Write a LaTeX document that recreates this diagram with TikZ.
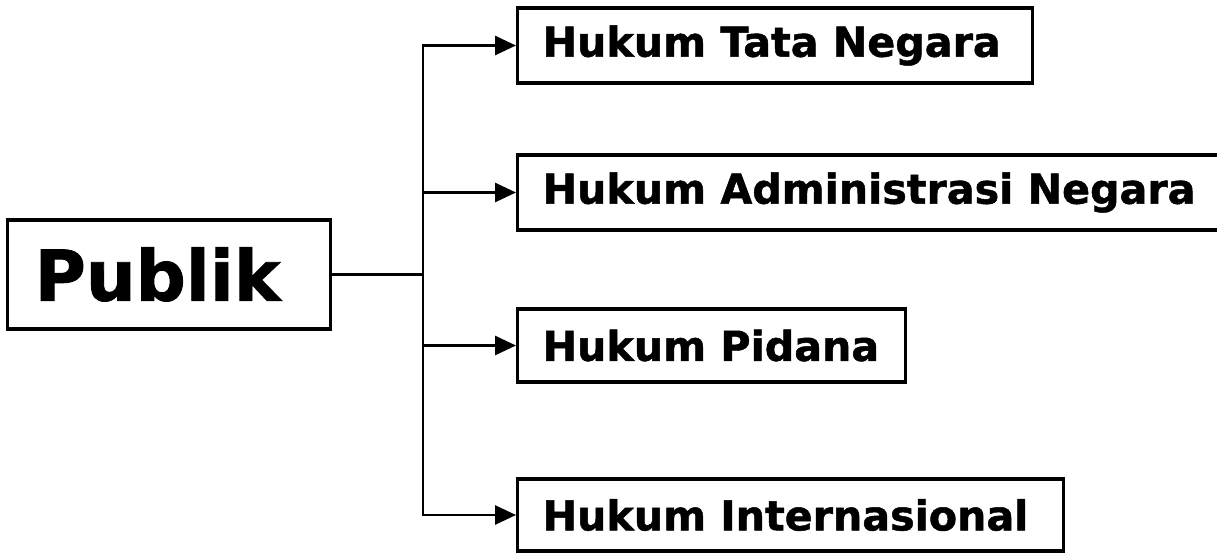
\documentclass[tikz,border=0pt]{standalone}
\usepackage{fontspec}
\setmainfont{DejaVu Sans}[BoldFeatures={FakeBold=1.2}]
\usetikzlibrary{arrows.meta}
\begin{document}
\begin{tikzpicture}[x=1pt,y=-1pt,
  box/.style={draw=black,line width=3.2pt,rectangle,anchor=west,
    inner xsep=0pt,inner ysep=0pt,font=\bfseries\fontsize{41.2}{50}\selectfont},
  link/.style={line width=2.8pt,-{Triangle[length=21pt,width=19pt]}}]
  \useasboundingbox (0,0) rectangle (1217,552);
  % root box
  \node[box,minimum width=323pt,minimum height=109pt,
        font=\bfseries\fontsize{70}{80}\selectfont] (pub) at (6,274.5)
        {\hspace*{27pt}\makebox[296pt][l]{Publik}};
  % branch boxes
  \node[box,minimum width=515pt,minimum height=75pt] (b1) at (516,45.5)
        {\hspace*{25pt}\makebox[490pt][l]{Hukum Tata Negara}};
  \node[box,minimum width=720pt,minimum height=75pt] (b2) at (516,192.5)
        {\hspace*{25pt}\makebox[695pt][l]{Hukum Administrasi Negara}};
  \node[box,minimum width=388pt,minimum height=73pt] (b3) at (516,345.5)
        {\hspace*{25pt}\makebox[363pt][l]{Hukum Pidana}};
  \node[box,minimum width=546pt,minimum height=72pt] (b4) at (516,515)
        {\hspace*{25pt}\makebox[521pt][l]{Hukum Internasional}};
  % junction on the trunk
  \coordinate (jn) at (423,274.5);
  \draw[line width=2.8pt] (pub.east) -- (jn);
  \draw[link] (jn) |- (b1.west);
  \draw[link] (jn) |- (b2.west);
  \draw[link] (jn) |- (b3.west);
  \draw[link] (jn) |- (b4.west);
\end{tikzpicture}
\end{document}
